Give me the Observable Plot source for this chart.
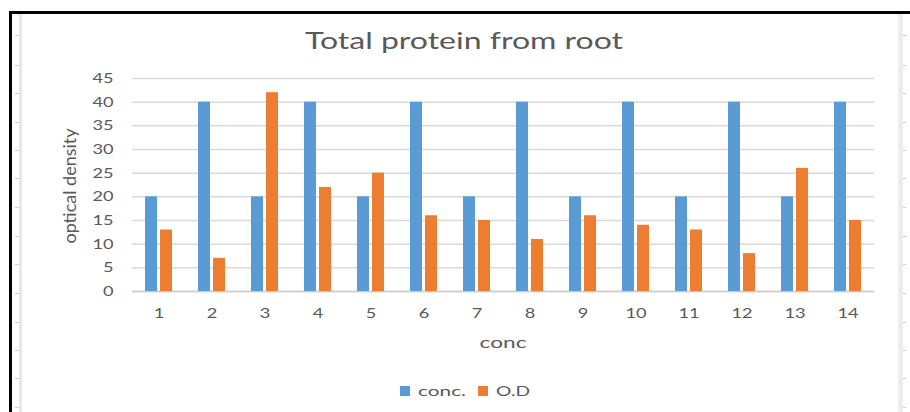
<!DOCTYPE html>
<html>
<head>
<meta charset="utf-8">
<script src="https://cdn.jsdelivr.net/npm/d3@7"></script>
<script src="https://cdn.jsdelivr.net/npm/@observablehq/plot@0.6"></script>
<style>
  html, body { margin: 0; padding: 0; background: #fff; }
  #wrap { position: relative; width: 910px; height: 412px; overflow: hidden; font-family: Lato, "Open Sans", sans-serif; color: #595959; }
  #chart { position: absolute; left: 0; top: 0; }
  .deco { position: absolute; }
  .fit { display: inline-block; white-space: nowrap; line-height: 1; }
  .fit > span { display: inline-block; white-space: nowrap; transform-origin: 0 50%; }
  #title { position: absolute; top: 40px; left: 463.5px; transform: translate(-50%, -50%); font-size: 23px; }
  #xlabel { position: absolute; top: 341px; left: 503px; transform: translate(-50%, -50%); font-size: 16px; }
  #ylabel { position: absolute; top: 185.5px; left: 69px; transform: translate(-50%, -50%) rotate(-90deg); font-size: 18px; white-space: nowrap; line-height: 1; }
  #legend { position: absolute; top: 391px; left: 400px; transform: translateY(-50%); display: flex; align-items: center; font-size: 14px; }
  .sw { width: 10px; height: 10px; display: inline-block; }
</style>
</head>
<body>
<div id="wrap">
  <div id="chart"></div>
  <div id="title"><span class="fit" data-w="318"><span></span></span></div>
  <div id="xlabel"><span class="fit" data-w="47"><span></span></span></div>
  <div id="ylabel"></div>
  <div id="legend"></div>
</div>
<script>
// ---- data ----
const categories = ["1","2","3","4","5","6","7","8","9","10","11","12","13","14"];
const concValues = [20,40,20,40,20,40,20,40,20,40,20,40,20,40];
const odValues   = [13,7,42,22,25,16,15,11,16,14,13,8,26,15];
const seriesNames = ["conc.", "O.D"];
const seriesColors = ["#5B9BD5", "#ED7D31"];
const yTicks = [0,5,10,15,20,25,30,35,40,45];
const titleText = "Total protein from root";
const xLabelText = "conc";
const yLabelText = "optical density";
const legendWidths = [48, 34];

// ---- table for Plot ----
const rows = categories.flatMap((c, i) => [
  {cat: c, series: seriesNames[0], value: concValues[i]},
  {cat: c, series: seriesNames[1], value: odValues[i]}
]);

const chart = Plot.plot({
  width: 910,
  height: 412,
  marginTop: 78,
  marginBottom: 121,
  marginLeft: 130,
  marginRight: 35,
  style: {background: "transparent", color: "#595959", fontFamily: "Lato, sans-serif", fontSize: "14px", overflow: "visible"},
  fx: {domain: categories, padding: 0, label: null},
  x: {domain: seriesNames, paddingInner: 0.2, paddingOuter: 0.8, axis: null},
  y: {domain: [0, 45], label: null},
  color: {domain: seriesNames, range: seriesColors},
  marks: [
    Plot.gridY({ticks: yTicks, stroke: "#d9d9d9", strokeOpacity: 1, strokeWidth: 1.5}),
    Plot.ruleY([0], {stroke: "#cccccc", strokeWidth: 1.5}),
    Plot.barY(rows, {fx: "cat", x: "series", y: "value", fill: "series"}),
    Plot.axisY({ticks: yTicks, tickSize: 0, tickPadding: 19, label: null}),
    Plot.axisFx({anchor: "bottom", tickSize: 0, tickPadding: 17, label: null})
  ]
});
document.getElementById("chart").appendChild(chart);

// widen SVG tick labels horizontally around their anchors (reference text is stretched)
const S = 1.3;
chart.querySelectorAll("text").forEach(t => {
  const tx = +t.getAttribute("x") || 0, ty = +t.getAttribute("y") || 0;
  const tr = t.getAttribute("transform") || "";
  t.setAttribute("transform", `${tr} translate(${tx},${ty}) scale(${S},1) translate(${-tx},${-ty})`);
});

// ---- HTML texts ----
document.querySelector("#title .fit > span").textContent = titleText;
document.querySelector("#xlabel .fit > span").textContent = xLabelText;
document.getElementById("ylabel").textContent = yLabelText;

const legend = document.getElementById("legend");
seriesNames.forEach((name, i) => {
  const sw = document.createElement("span");
  sw.className = "sw";
  sw.style.background = seriesColors[i];
  sw.style.marginLeft = i === 0 ? "0px" : "12px";
  sw.style.marginRight = "8px";
  legend.appendChild(sw);
  const f = document.createElement("span");
  f.className = "fit";
  f.dataset.w = legendWidths[i];
  const inner = document.createElement("span");
  inner.textContent = name;
  f.appendChild(inner);
  legend.appendChild(f);
});

document.querySelectorAll(".fit").forEach(f => {
  const inner = f.firstElementChild;
  const w = inner.getBoundingClientRect().width;
  const target = +f.dataset.w;
  inner.style.transform = `scaleX(${target / w})`;
  f.style.width = target + "px";
});

// ---- decorative frame of the screenshot ----
const wrap = document.getElementById("wrap");
function box(l, t, w, h, c) {
  const d = document.createElement("div");
  d.className = "deco";
  Object.assign(d.style, {left: l + "px", top: t + "px", width: w + "px", height: h + "px", background: c});
  wrap.appendChild(d);
}
box(9, 11, 901, 3, "#000");
box(9, 11, 3, 401, "#000");
box(19, 14, 3, 398, "#e8e8e8");
box(898, 14, 5, 398, "#ededed");
const decoRows = [35, 65, 93, 122, 150, 178, 207, 236, 264, 293, 322, 350, 378, 407];
decoRows.forEach(y => { box(15, y, 4, 1, "#cfcfcf"); box(903, y, 3, 1, "#cfcfcf"); });
</script>
</body>
</html>
